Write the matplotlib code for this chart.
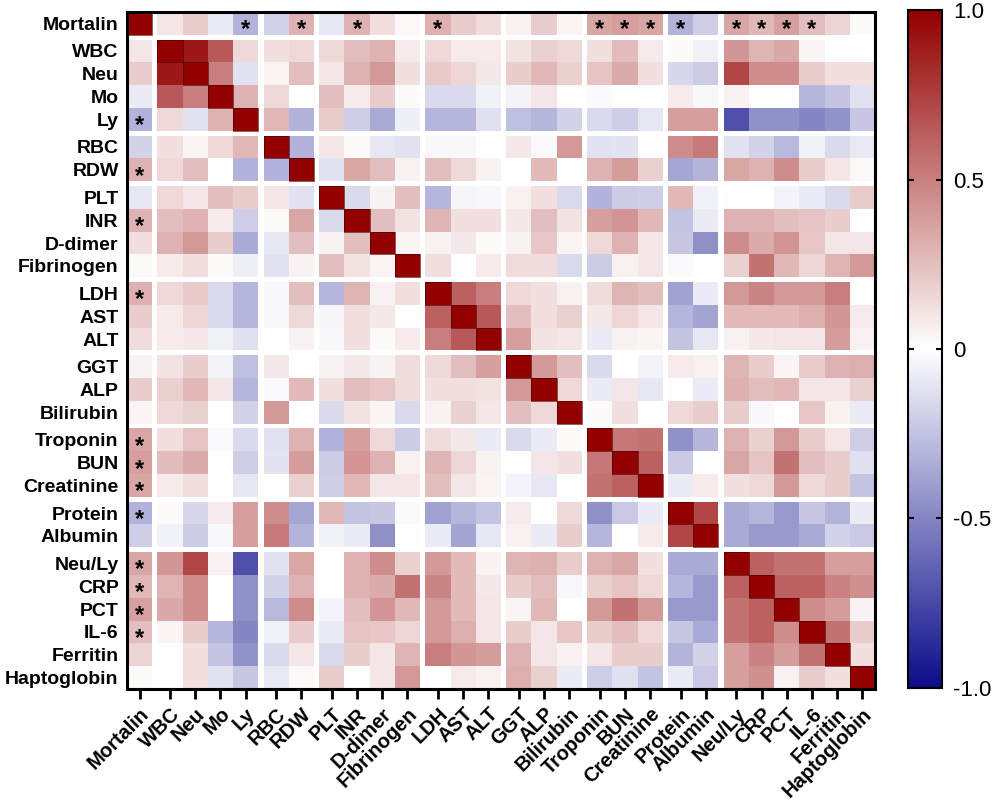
import numpy as np
import matplotlib
matplotlib.use('Agg')
import matplotlib.pyplot as plt
from matplotlib.colors import LinearSegmentedColormap
from matplotlib.patches import Rectangle

plt.rcParams['font.family'] = ['Liberation Sans', 'DejaVu Sans']

labels = ['Mortalin', 'WBC', 'Neu', 'Mo', 'Ly', 'RBC', 'RDW', 'PLT', 'INR',
          'D-dimer', 'Fibrinogen', 'LDH', 'AST', 'ALT', 'GGT', 'ALP',
          'Bilirubin', 'Troponin', 'BUN', 'Creatinine', 'Protein', 'Albumin',
          'Neu/Ly', 'CRP', 'PCT', 'IL-6', 'Ferritin', 'Haptoglobin']

group_sizes = [1, 4, 2, 4, 3, 3, 3, 2, 6]

# lower triangle of the correlation matrix (row i, columns 0..i-1)
lower = [
    [],
    [0.10],
    [0.20, 0.90],
    [-0.08, 0.65, 0.50],
    [-0.32, 0.15, -0.12, 0.30],
    [-0.18, 0.12, 0.04, 0.15, 0.28],
    [0.30, 0.15, 0.25, 0.00, -0.32, -0.32],
    [-0.10, 0.15, 0.10, 0.25, 0.20, 0.10, -0.12],
    [0.30, 0.25, 0.30, 0.08, -0.20, 0.03, 0.35, -0.15],
    [0.12, 0.30, 0.40, 0.20, -0.35, -0.10, 0.25, 0.05, 0.25],
    [0.03, 0.08, 0.12, 0.02, -0.07, -0.12, 0.05, 0.25, 0.11, 0.04],
    [0.31, 0.15, 0.21, -0.15, -0.30, -0.03, 0.25, -0.30, 0.29, 0.05, 0.13],
    [0.20, 0.08, 0.16, -0.15, -0.30, -0.03, 0.15, -0.04, 0.12, 0.09, 0.00, 0.62],
    [0.14, 0.08, 0.09, -0.06, -0.13, 0.00, 0.05, -0.03, 0.12, 0.02, 0.08, 0.50, 0.65],
    [0.05, 0.11, 0.19, -0.05, -0.26, 0.09, 0.00, 0.05, 0.09, 0.05, 0.14, 0.15, 0.25, 0.38],
    [0.20, 0.18, 0.28, 0.10, -0.30, -0.02, 0.27, 0.12, 0.25, 0.22, 0.14, 0.12, 0.12, 0.11, 0.40],
    [0.04, 0.15, 0.18, 0.00, -0.18, 0.40, 0.00, -0.15, 0.11, 0.04, -0.15, 0.05, 0.18, 0.10, 0.25, 0.15],
    [0.35, 0.13, 0.23, -0.02, -0.15, -0.12, 0.30, -0.32, 0.38, 0.15, -0.21, 0.14, 0.09, -0.08, -0.15, -0.08, 0.02],
    [0.38, 0.26, 0.33, 0.00, -0.20, -0.11, 0.39, -0.21, 0.42, 0.30, 0.06, 0.29, 0.16, 0.05, 0.00, 0.10, 0.12, 0.53],
    [0.35, 0.08, 0.12, 0.00, -0.10, 0.00, 0.18, -0.20, 0.28, 0.10, 0.10, 0.25, 0.10, 0.04, -0.05, -0.10, 0.00, 0.55, 0.62],
    [-0.32, 0.02, -0.16, 0.08, 0.38, 0.45, -0.36, 0.28, -0.25, -0.23, -0.02, -0.39, -0.30, -0.25, 0.08, 0.00, 0.15, -0.45, -0.22, -0.08],
    [-0.20, -0.06, -0.21, -0.03, 0.38, 0.52, -0.31, -0.06, -0.08, -0.46, 0.00, -0.08, -0.37, -0.10, 0.06, -0.08, 0.20, -0.30, 0.00, 0.08, 0.72],
    [0.35, 0.41, 0.72, 0.06, -0.72, -0.12, 0.35, 0.00, 0.30, 0.45, 0.18, 0.40, 0.27, 0.05, 0.29, 0.31, 0.20, 0.30, 0.35, 0.12, -0.35, -0.35],
    [0.28, 0.29, 0.45, 0.00, -0.45, -0.18, 0.30, 0.00, 0.30, 0.33, 0.55, 0.48, 0.27, 0.09, 0.20, 0.25, -0.03, 0.18, 0.23, 0.15, -0.30, -0.42, 0.62],
    [0.37, 0.34, 0.45, 0.00, -0.45, -0.29, 0.45, -0.05, 0.25, 0.42, 0.28, 0.40, 0.27, 0.10, 0.04, 0.28, 0.00, 0.40, 0.55, 0.40, -0.42, -0.42, 0.55, 0.62],
    [0.25, 0.04, 0.20, -0.30, -0.50, -0.06, 0.20, -0.08, 0.23, 0.22, 0.16, 0.40, 0.32, 0.10, 0.20, 0.10, 0.22, 0.20, 0.25, 0.15, -0.23, -0.35, 0.55, 0.62, 0.45],
    [0.17, 0.00, 0.12, -0.24, -0.44, -0.15, 0.10, -0.15, 0.19, 0.10, 0.29, 0.50, 0.41, 0.39, 0.30, 0.10, 0.06, 0.10, 0.20, 0.19, -0.31, -0.18, 0.38, 0.49, 0.39, 0.55],
    [0.02, 0.00, 0.12, -0.12, -0.23, -0.09, 0.03, 0.20, 0.00, 0.10, 0.40, 0.00, 0.08, 0.06, 0.32, 0.18, -0.08, -0.20, -0.13, -0.25, -0.08, -0.22, 0.38, 0.43, 0.05, 0.20, 0.12],
]

significant = ['Ly', 'RDW', 'INR', 'LDH', 'Troponin', 'BUN', 'Creatinine',
               'Protein', 'Neu/Ly', 'CRP', 'PCT', 'IL-6']

cbar_ticks = [-1.0, -0.5, 0.0, 0.5, 1.0]
cbar_ticklabels = ['-1.0', '-0.5', '0', '0.5', '1.0']

# ---- build matrix ----
n = len(labels)
R = np.eye(n)
for i, row in enumerate(lower):
    assert len(row) == i
    for j, v in enumerate(row):
        R[i, j] = v
        R[j, i] = v

gap = 0.21
grp_of = np.repeat(np.arange(len(group_sizes)), group_sizes)
lefts = np.arange(n) + grp_of * gap
centers = lefts + 0.5

edges, idx = [], []
for k in range(n):
    edges.append(lefts[k]); idx.append(k)
    if k < n - 1 and grp_of[k + 1] != grp_of[k]:
        edges.append(lefts[k] + 1); idx.append(-1)
edges.append(lefts[-1] + 1)
edges = np.array(edges)
idx = np.array(idx)
M = np.full((len(idx), len(idx)), np.nan)
valid = idx >= 0
M[np.ix_(valid, valid)] = R[np.ix_(idx[valid], idx[valid])]

cmap = LinearSegmentedColormap.from_list('rwb', ['#0c0c8a', '#ffffff', '#930000'])

fig = plt.figure(figsize=(9.96, 8.06), dpi=100)
ax = fig.add_axes([0.1275, 0.1452, 0.751, 0.840])
mesh = ax.pcolormesh(edges, edges, np.ma.masked_invalid(M), cmap=cmap,
                     vmin=-1, vmax=1, shading='flat')
ax.set_xlim(edges[0], edges[-1])
ax.set_ylim(edges[-1], edges[0])

for k in range(n):
    ax.add_patch(Rectangle((lefts[k], lefts[k]), 1, 1, fill=False,
                           edgecolor='#4a0000', lw=0.45))

for name in significant:
    k = labels.index(name)
    ax.text(centers[k], centers[0] + 0.28, '*', ha='center', va='center',
            fontsize=17, fontweight='bold')
    ax.text(centers[0], centers[k] + 0.28, '*', ha='center', va='center',
            fontsize=17, fontweight='bold')

ax.set_xticks(centers)
ax.set_xticklabels(labels, rotation=45, ha='right', rotation_mode='anchor',
                   fontsize=14.5, fontweight='bold')
ax.set_yticks(centers)
ax.set_yticklabels(labels, fontsize=14, fontweight='bold')
ax.tick_params(axis='x', length=7, width=2, direction='out', pad=4)
ax.tick_params(axis='y', length=0, pad=6)
for s in ax.spines.values():
    s.set_linewidth(2.2)
    s.set_color('black')

cax = fig.add_axes([0.9116, 0.1465, 0.0341, 0.8410])
cb = fig.colorbar(mesh, cax=cax, ticks=cbar_ticks)
cb.set_ticklabels(cbar_ticklabels)
cb.outline.set_linewidth(1.5)
cax.tick_params(direction='in', length=4, width=1.5, left=True, right=True,
                labelsize=16, pad=8)

fig.savefig('out.png', dpi=100)
